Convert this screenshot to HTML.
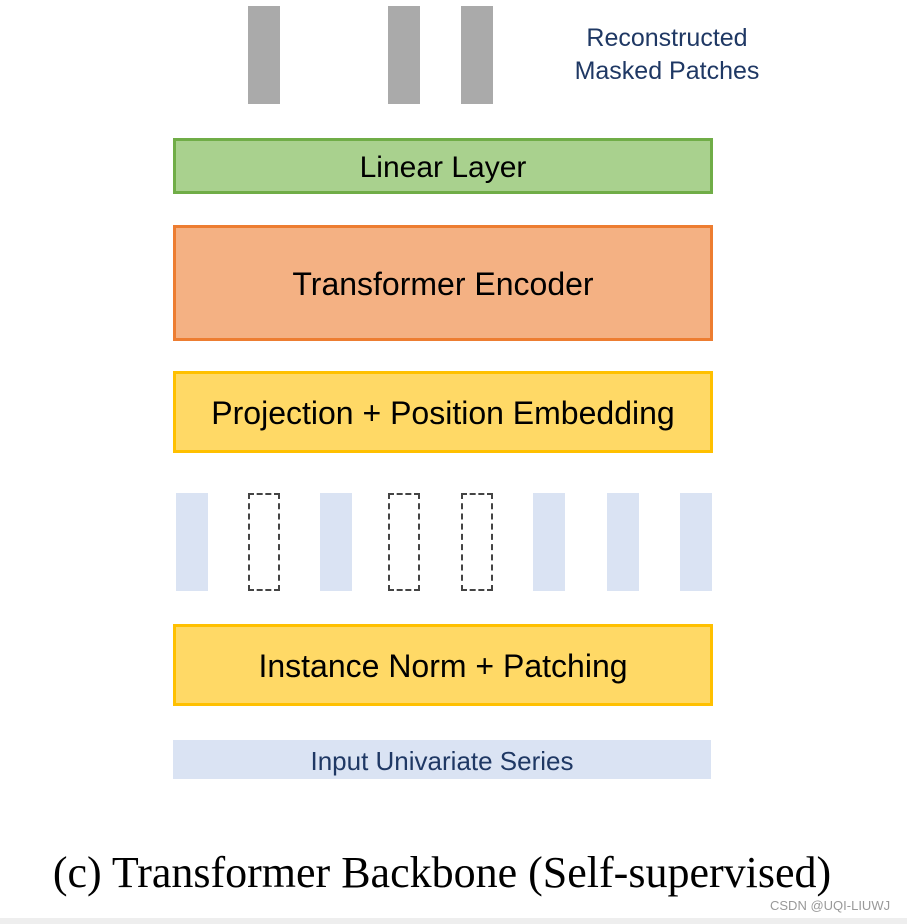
<!DOCTYPE html>
<html><head><meta charset="utf-8"><style>
body{margin:0;width:907px;height:924px;background:#fff;position:relative;overflow:hidden;font-family:"Liberation Sans",sans-serif}
div{position:absolute;box-sizing:border-box}
.g{background:#aaa;top:6px;width:32px;height:98px}
.b{background:#dae3f3;top:493px;width:32px;height:98px}
.d{top:493px;width:32px;height:98px;border:2px dashed #444}
.box{left:173px;width:540px;display:flex;align-items:center;justify-content:center;font-size:32px;color:#000;border-width:3px;border-style:solid;padding-top:3px}
</style></head><body>
<div class="g" style="left:248px"></div>
<div class="g" style="left:388px"></div>
<div class="g" style="left:461px"></div>
<div style="left:557px;top:22px;width:220px;text-align:center;color:#1f3864;font-size:25px;line-height:33px">Reconstructed<br>Masked Patches</div>
<div class="box" style="top:138px;height:56px;background:#a9d18e;border-color:#70ad47;font-size:30px">Linear Layer</div>
<div class="box" style="top:225px;height:116px;background:#f4b183;border-color:#ed7d31">Transformer Encoder</div>
<div class="box" style="top:371px;height:82px;background:#ffd966;border-color:#ffc000">Projection + Position Embedding</div>
<div class="b" style="left:176px"></div>
<div class="d" style="left:248px"></div>
<div class="b" style="left:320px"></div>
<div class="d" style="left:388px"></div>
<div class="d" style="left:461px"></div>
<div class="b" style="left:533px"></div>
<div class="b" style="left:607px"></div>
<div class="b" style="left:680px"></div>
<div class="box" style="top:624px;height:82px;background:#ffd966;border-color:#ffc000">Instance Norm + Patching</div>
<div style="left:173px;top:740px;width:538px;height:39px;background:#dae3f3;color:#1f3864;font-size:26px;display:flex;align-items:center;justify-content:center;padding-top:3px">Input Univariate Series</div>
<div style="left:0;top:847px;width:884px;text-align:center;font-family:'Liberation Serif',serif;font-size:44px;color:#000;white-space:nowrap">(c) Transformer Backbone (Self-supervised)</div>
<div style="left:770px;top:898px;font-size:13px;color:#999">CSDN @UQI-LIUWJ</div>
<div style="left:0;top:918px;width:907px;height:6px;background:#eee"></div>
</body></html>
